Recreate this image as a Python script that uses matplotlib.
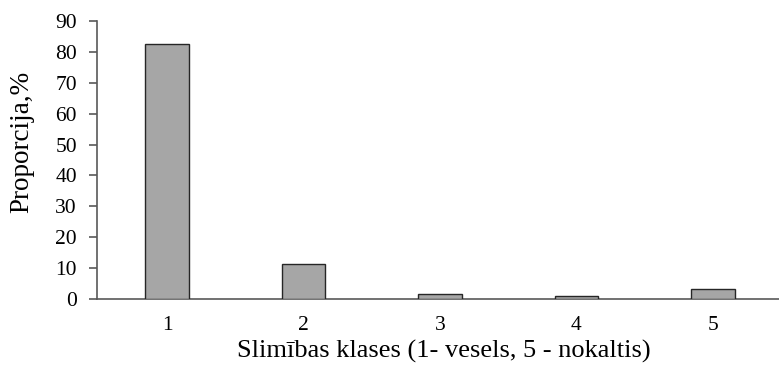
import matplotlib
matplotlib.use("Agg")
import matplotlib.pyplot as plt

classes = ["1", "2", "3", "4", "5"]
proportion = [82.7, 11.2, 1.6, 0.9, 3.3]
y_ticks = [0, 10, 20, 30, 40, 50, 60, 70, 80, 90]

plt.rcParams["font.family"] = ["Liberation Serif", "DejaVu Serif"]

fig = plt.figure(figsize=(7.79, 3.65), dpi=100)
ax = fig.add_axes([0.1245, 0.181, 0.8755, 0.7615])

x = [i + 0.5 for i in range(len(classes))]
ax.bar(x, proportion, width=0.32, color="#a6a6a6", edgecolor="#262626", linewidth=1.0, zorder=3)

ax.set_xlim(-0.015, 4.985)
ax.set_ylim(0, 90)
ax.set_yticks(y_ticks)
ax.set_xticks(x)
ax.set_xticklabels(classes)

for s in ["top", "right"]:
    ax.spines[s].set_visible(False)
for s in ["left", "bottom"]:
    ax.spines[s].set_color("#595959")
    ax.spines[s].set_linewidth(1.2)

ax.tick_params(axis="y", direction="out", length=5.5, width=1.2, color="#595959", labelsize=15.5, pad=9)
ax.tick_params(axis="x", length=0, labelsize=15.5, pad=12)

ax.set_ylabel("Proporcija,%", fontsize=19.5, va="center")
ax.yaxis.set_label_coords(-0.110, 0.565)
ax.set_xlabel("Slimības klases (1- vesels, 5 - nokaltis)", fontsize=19, va="baseline")
ax.xaxis.set_label_coords(0.508, -0.210)

fig.savefig("out.png", dpi=100)
